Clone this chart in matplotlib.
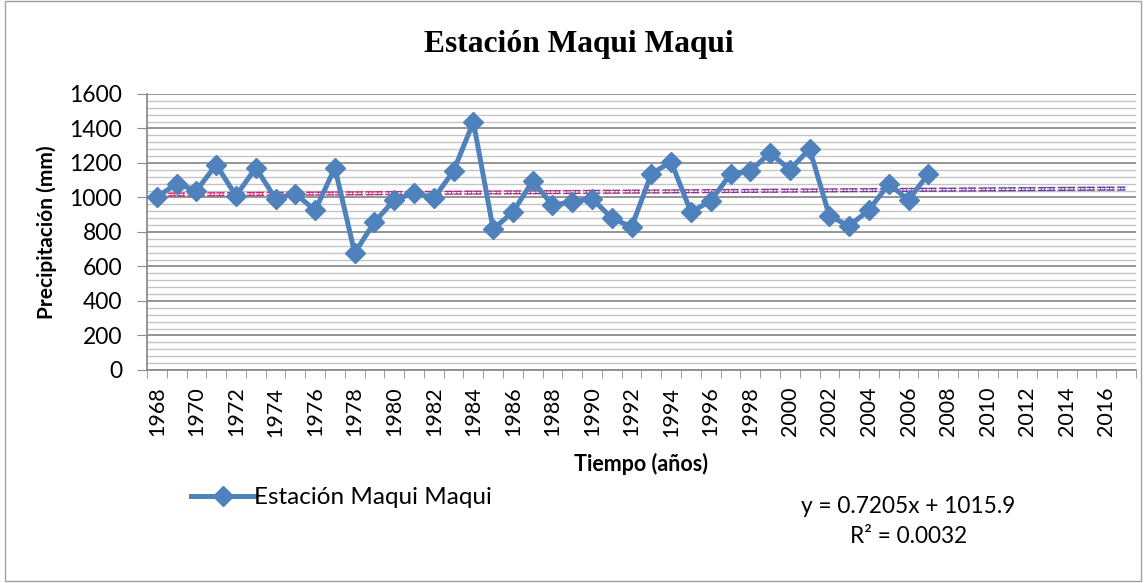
import matplotlib
matplotlib.use('Agg')
import matplotlib.pyplot as plt
from matplotlib.patches import Rectangle
from matplotlib.lines import Line2D
import numpy as np

# Años del eje (categorías) y precipitación anual (mm)
years = list(range(1968, 2018))
precip = [1003, 1080, 1040, 1190, 1010, 1172, 993, 1022, 925, 1172,
          678, 858, 985, 1025, 995, 1154, 1438, 817, 916, 1096,
          955, 975, 993, 881, 829, 1138, 1206, 916, 980, 1136,
          1154, 1258, 1162, 1281, 893, 835, 928, 1078, 986, 1136]

# Línea de tendencia reportada
slope = 0.7205
intercept = 1015.9
r2 = 0.0032

blue = '#4F81BD'

def plot_chart():
    fig = plt.figure(figsize=(11.44, 5.83), dpi=100)
    ax = fig.add_axes([0.1285, 0.3654, 0.8645, 0.4734])

    x = np.arange(len(years))
    xd = np.arange(len(precip))

    # gridlines
    ax.set_ylim(0, 1600)
    ax.set_yticks(np.arange(0, 1601, 200))
    ax.set_yticks(np.arange(0, 1601, 40), minor=True)
    ax.grid(axis='y', which='minor', color='#C4C4C4', lw=1.0, zorder=0)
    ax.grid(axis='y', which='major', color='#8C8C8C', lw=1.3, zorder=0)

    # trend line (hollow dashes, pink -> purple)
    xt = np.arange(1, len(years) + 1)
    yt = slope * xt + intercept
    c0 = np.array([0.84, 0.14, 0.43])
    c1 = np.array([0.36, 0.23, 0.63])
    for i in range(len(x) - 1):
        f = i / (len(x) - 2)
        col = c0 * (1 - f) + c1 * f
        ax.plot(x[i:i + 2], yt[i:i + 2], color=col, lw=3.0, ls=(0, (2.0, 0.6)),
                dash_capstyle='butt', zorder=2)
        ax.plot(x[i:i + 2], yt[i:i + 2], color='white', lw=1.0, ls=(0, (2.0, 0.6)),
                dash_capstyle='butt', zorder=2)

    ax.plot(xd, precip, color=blue, lw=3.6, marker='D', markersize=10.5,
            zorder=3, clip_on=False)

    ax.set_xlim(-0.5, len(years) - 0.5)
    ax.set_xticks(x[::2])
    ax.set_xticklabels([str(y) for y in years[::2]], rotation=90)
    ax.set_xticks(np.arange(-0.5, len(years), 1), minor=True)
    ax.tick_params(axis='x', which='major', length=0, pad=12, labelsize=15.5)
    ax.tick_params(axis='x', which='minor', length=6, color='#8C8C8C', direction='out')
    ax.tick_params(axis='y', which='major', length=7, color='#8C8C8C', labelsize=16.5, pad=11)
    ax.tick_params(axis='y', which='minor', length=0)
    for lbl in ax.get_xticklabels() + ax.get_yticklabels():
        lbl.set_family('Lato')

    for s in ['top', 'right']:
        ax.spines[s].set_visible(False)
    for s in ['left', 'bottom']:
        ax.spines[s].set_color('#8C8C8C')
        ax.spines[s].set_linewidth(1.3)

    ax.set_ylabel('Precipitación (mm)', fontsize=15, fontweight='bold', family='Lato', labelpad=9)
    ax.set_xlabel('Tiempo (años)', fontsize=15.5, fontweight='bold', family='Lato', labelpad=12)

    fig.text(0.506, 0.923, 'Estación Maqui Maqui', ha='center', va='center',
             fontsize=22.7, fontweight='bold', family='Liberation Serif')

    handle = Line2D([], [], color=blue, lw=3.6, marker='D', markersize=10.5)
    fig.legend([handle], ['Estación Maqui Maqui'], loc='center left',
               bbox_to_anchor=(0.148, 0.146), frameon=False, handlelength=2.6,
               handletextpad=0.0, prop={'family': 'Lato', 'size': 17.5})

    fig.text(0.794, 0.105, f'y = {slope}x + {intercept}\nR² = {r2}', ha='center',
             va='center', fontsize=16.3, family='Lato', linespacing=1.55)

    fig.patches.append(Rectangle((0.004, 0.004), 0.993, 0.994, transform=fig.transFigure,
                                 fill=False, edgecolor='#A0A0A0', lw=1.0))

    fig.savefig('out.png', dpi=100)

if __name__ == '__main__':
    plot_chart()
